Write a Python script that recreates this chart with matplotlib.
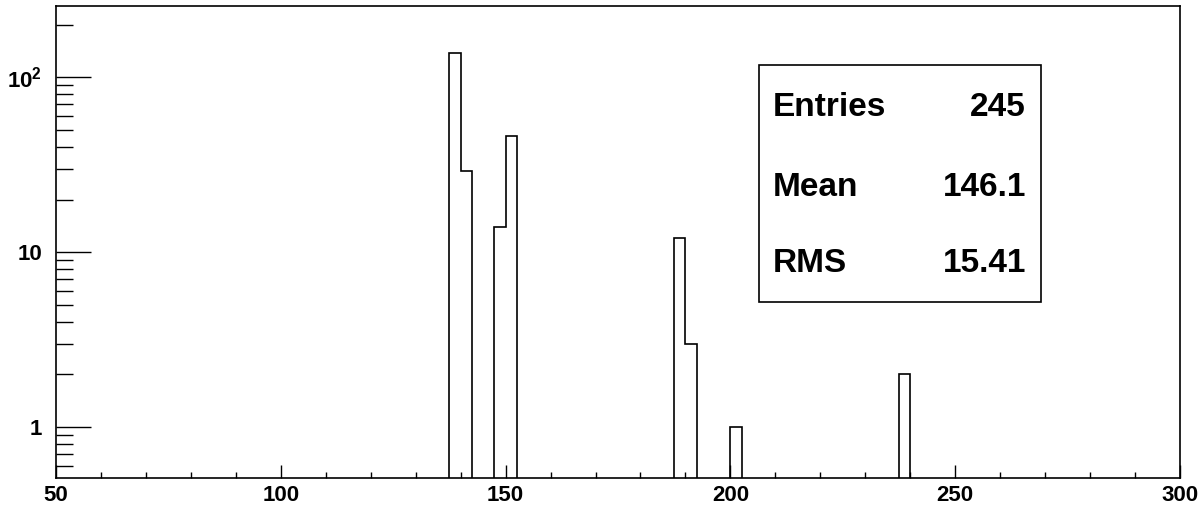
import numpy as np
import matplotlib
matplotlib.use("Agg")
import matplotlib.pyplot as plt
from matplotlib.patches import Rectangle
from matplotlib.ticker import LogLocator, FixedLocator, FixedFormatter, MultipleLocator, NullFormatter

plt.rcParams['font.family'] = ['Liberation Sans', 'DejaVu Sans']
plt.rcParams['font.weight'] = 'bold'
plt.rcParams['mathtext.fontset'] = 'custom'
plt.rcParams['mathtext.rm'] = 'Liberation Sans:bold'
plt.rcParams['mathtext.bf'] = 'Liberation Sans:bold'
plt.rcParams['mathtext.it'] = 'Liberation Sans:bold'

# Histogram definition
x_min, x_max, bin_width = 50.0, 300.0, 2.5
bin_low_edges = [137.5, 140.0, 147.5, 150.0, 187.5, 190.0, 200.0, 237.5]
bin_counts = [138, 29, 14, 46, 12, 3, 1, 2]

# Stats box
stat_names = ["Entries", "Mean", "RMS"]
stat_values = ["245", "146.1", "15.41"]

# Axis ticks
x_ticks = [50, 100, 150, 200, 250, 300]
y_ticks = [1, 10, 100]
y_tick_labels = ["1", "10", "10$^{2}$"]

edges = np.arange(x_min, x_max + bin_width / 2, bin_width)
counts = np.zeros(len(edges) - 1)
for lo, c in zip(bin_low_edges, bin_counts):
    counts[int(round((lo - x_min) / bin_width))] = c
plot_counts = np.where(counts > 0, counts, 1e-3)

W, H = 1199, 507
fig = plt.figure(figsize=(W / 100, H / 100), dpi=100)
ax = fig.add_axes([56 / W, 1 - 478 / H, (1180 - 56) / W, (478 - 6) / H])

ax.stairs(plot_counts, edges, color='black', linewidth=1.2, baseline=1e-3)
ax.set_yscale('log')
ax.set_xlim(x_min, x_max)
ax.set_ylim(0.51, 256)

ax.xaxis.set_major_locator(FixedLocator(x_ticks))
ax.xaxis.set_minor_locator(MultipleLocator(10))
ax.yaxis.set_major_locator(FixedLocator(y_ticks))
ax.yaxis.set_major_formatter(FixedFormatter(y_tick_labels))
ax.yaxis.set_minor_locator(LogLocator(base=10, subs=np.arange(2, 10)))
ax.yaxis.set_minor_formatter(NullFormatter())

ax.tick_params(axis='x', which='major', direction='in', length=9.4, width=1.0,
               labelsize=16, pad=5, top=False)
ax.tick_params(axis='x', which='minor', direction='in', length=4.5, width=1.0, top=False)
ax.tick_params(axis='y', which='major', direction='in', length=25, width=1.0,
               labelsize=16, pad=10, right=False)
ax.tick_params(axis='y', which='minor', direction='in', length=12, width=1.0, right=False)
for lbl in ax.get_xticklabels() + ax.get_yticklabels():
    lbl.set_fontweight('bold')
for s in ax.spines.values():
    s.set_linewidth(1.2)

# Stats box
bx0, by0, bx1, by1 = 759, 65, 1041, 302
fig.add_artist(Rectangle((bx0 / W, 1 - by1 / H), (bx1 - bx0) / W, (by1 - by0) / H,
                         transform=fig.transFigure, fill=True, facecolor='white',
                         edgecolor='black', linewidth=1.2))
baselines = [116.5, 196.5, 271.5]
for name, val, yb in zip(stat_names, stat_values, baselines):
    fig.text(773 / W, 1 - yb / H, name, fontsize=24, fontweight='bold',
             ha='left', va='baseline')
    fig.text(1026 / W, 1 - yb / H, val, fontsize=24, fontweight='bold',
             ha='right', va='baseline')

fig.savefig('out.png', dpi=100)
